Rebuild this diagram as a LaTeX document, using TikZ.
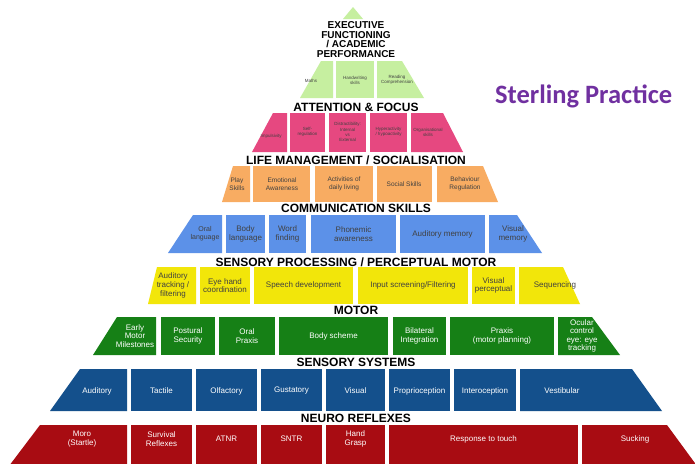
\documentclass[tikz,border=0pt]{standalone}
\usepackage{fontspec}
\setmainfont{Liberation Sans}
\newfontfamily\brandfont{Carlito}
\definecolor{execfill}{RGB}{198,239,160}
\definecolor{attnfill}{RGB}{230,72,128}
\definecolor{lifefill}{RGB}{248,172,98}
\definecolor{commfill}{RGB}{92,145,232}
\definecolor{sensfill}{RGB}{242,230,10}
\definecolor{motorfill}{RGB}{22,128,22}
\definecolor{sysfill}{RGB}{20,80,140}
\definecolor{reflexfill}{RGB}{168,12,18}
\definecolor{brandpurple}{RGB}{112,48,160}

\begin{document}
\begin{tikzpicture}[x=1pt,y=1pt]
\tikzstyle{every node}+=[inner sep=0pt, align=center]
\tikzstyle{title}=[font=\fontsize{12}{12}\selectfont\bfseries, text height=8.6pt, text depth=0pt]
\tikzstyle{tinytext}=[font=\fontsize{4.5}{5.2}\selectfont, text=black!75]
\tikzstyle{smalltext}=[font=\fontsize{6.5}{7.4}\selectfont, text=black!75]
\tikzstyle{boxtext}=[font=\fontsize{8}{8.6}\selectfont, text=black!75]
\tikzstyle{lighttext}=[font=\fontsize{8}{8.6}\selectfont, text=white]
\clip (0,0) rectangle (695,-463);
\fill [white] (0,0) rectangle (695,-463);
\fill [execfill] (343,-19) -- (353,-7) -- (363,-19) -- cycle;
\node [font=\fontsize{10}{9.4}\selectfont\bfseries] (exec) at (356,-39.5) {EXECUTIVE\\FUNCTIONING\\/ ACADEMIC\\PERFORMANCE};
\fill [execfill] (300,-98) -- (321,-61) -- (333,-61) -- (333,-98) -- cycle;
\node [tinytext] (maths) at (311,-81) {Maths};
\fill [execfill] (336,-61) rectangle (374,-98);
\node [tinytext] (handwriting) at (355,-80) {Handwriting\\skills};
\fill [execfill] (377,-61) -- (402,-61) -- (424,-98) -- (377,-98) -- cycle;
\node [tinytext] (reading) at (397,-80) {Reading\\Comprehension};
\node [title] (attention) at (356,-107) {ATTENTION \& FOCUS};
\fill [attnfill] (252,-152) -- (273,-113) -- (287,-113) -- (287,-152) -- cycle;
\node [tinytext] (impulsivity) at (271,-136) {Impulsivity};
\fill [attnfill] (290,-113) rectangle (325,-152);
\node [tinytext] (selfreg) at (307.5,-132) {Self-\\regulation};
\fill [attnfill] (329,-113) rectangle (366,-152);
\node [tinytext] (distract) at (347.5,-132) {Distractibility:\\Internal\\vs\\External};
\fill [attnfill] (370,-113) rectangle (407,-152);
\node [tinytext] (hyper) at (388.5,-132) {Hyperactivity\\/ hypoactivity};
\fill [attnfill] (411,-113) -- (443,-113) -- (463,-152) -- (411,-152) -- cycle;
\node [tinytext] (organise) at (428,-132) {Organisational\\skills};
\node [title] (life) at (356,-160) {LIFE MANAGEMENT / SOCIALISATION};
\fill [lifefill] (222,-202) -- (233,-166) -- (250,-166) -- (250,-202) -- cycle;
\node [smalltext] (play) at (237,-184) {Play\\Skills};
\fill [lifefill] (253,-166) rectangle (310,-202);
\node [smalltext] (emotional) at (282,-184) {Emotional\\Awareness};
\fill [lifefill] (315,-166) rectangle (373,-202);
\node [smalltext] (activities) at (344,-184) {Activities of\\daily living};
\fill [lifefill] (377,-166) rectangle (432,-202);
\node [smalltext] (social) at (404,-184) {Social Skills};
\fill [lifefill] (437,-166) -- (483,-166) -- (498,-202) -- (437,-202) -- cycle;
\node [smalltext] (behaviour) at (465,-184) {Behaviour\\Regulation};
\node [title] (communication) at (356,-208.5) {COMMUNICATION SKILLS};
\fill [commfill] (168,-253) -- (193,-215) -- (222,-215) -- (222,-253) -- cycle;
\node [boxtext, font=\fontsize{7}{8.2}\selectfont] (oral) at (205,-234) {Oral\\language};
\fill [commfill] (226,-215) rectangle (265,-253);
\node [boxtext] (body) at (245.5,-234) {Body\\language};
\fill [commfill] (269,-215) rectangle (306,-253);
\node [boxtext] (word) at (287.5,-234) {Word\\finding};
\fill [commfill] (311,-215) rectangle (396,-253);
\node [boxtext] (phonemic) at (353.5,-234) {Phonemic\\awareness};
\fill [commfill] (400,-215) rectangle (485,-253);
\node [boxtext] (audmemory) at (442.5,-234) {Auditory memory};
\fill [commfill] (489,-215) -- (517,-215) -- (542,-253) -- (489,-253) -- cycle;
\node [boxtext] (vismemory) at (513,-234) {Visual\\memory};
\node [title] (sensory) at (356,-262) {SENSORY PROCESSING / PERCEPTUAL MOTOR};
\fill [sensfill] (148,-304) -- (157,-267) -- (196,-267) -- (196,-304) -- cycle;
\node [boxtext] (audtrack) at (173,-285.5) {Auditory\\tracking /\\filtering};
\fill [sensfill] (200,-267) rectangle (250,-304);
\node [boxtext] (eyehand) at (225,-285.5) {Eye hand\\coordination};
\fill [sensfill] (254,-267) rectangle (353,-304);
\node [boxtext] (speech) at (303.5,-285.5) {Speech development};
\fill [sensfill] (358,-267) rectangle (468,-304);
\node [boxtext] (input) at (413,-285.5) {Input screening/Filtering};
\fill [sensfill] (472,-267) rectangle (515,-304);
\node [boxtext] (visperc) at (493.5,-285.5) {Visual\\perceptual};
\fill [sensfill] (519,-267) -- (563,-267) -- (580,-304) -- (519,-304) -- cycle;
\node [boxtext] (sequencing) at (555,-285.5) {Sequencing};
\node [title] (motor) at (356,-310) {MOTOR};
\fill [motorfill] (93,-355) -- (117,-317) -- (156,-317) -- (156,-355) -- cycle;
\node [lighttext] (early) at (135,-336) {Early\\Motor\\Milestones};
\fill [motorfill] (161,-317) rectangle (215,-355);
\node [lighttext] (postural) at (188,-336) {Postural\\Security};
\fill [motorfill] (219,-317) rectangle (275,-355);
\node [lighttext] (oralpraxis) at (247,-336) {Oral\\Praxis};
\fill [motorfill] (279,-317) rectangle (388,-355);
\node [lighttext] (bodyscheme) at (333.5,-336) {Body scheme};
\fill [motorfill] (393,-317) rectangle (446,-355);
\node [lighttext] (bilateral) at (419.5,-336) {Bilateral\\Integration};
\fill [motorfill] (450,-317) rectangle (554,-355);
\node [lighttext] (praxis) at (502,-336) {Praxis\\(motor planning)};
\fill [motorfill] (558,-317) -- (592,-317) -- (620,-355) -- (558,-355) -- cycle;
\node [lighttext] (ocular) at (582,-336) {Ocular\\control\\eye: eye\\tracking};
\node [title] (systems) at (356,-362.5) {SENSORY SYSTEMS};
\fill [sysfill] (50,-411) -- (80,-369) -- (127,-369) -- (127,-411) -- cycle;
\node [lighttext] (auditory) at (97,-391) {Auditory};
\fill [sysfill] (131,-369) rectangle (192,-411);
\node [lighttext] (tactile) at (161.5,-391) {Tactile};
\fill [sysfill] (196,-369) rectangle (257,-411);
\node [lighttext] (olfactory) at (226.5,-391) {Olfactory};
\fill [sysfill] (261,-369) rectangle (322,-411);
\node [lighttext] (gustatory) at (291.5,-391) {Gustatory};
\fill [sysfill] (326,-369) rectangle (385,-411);
\node [lighttext] (visual) at (355.5,-391) {Visual};
\fill [sysfill] (389,-369) rectangle (450,-411);
\node [lighttext] (proprio) at (419.5,-391) {Proprioception};
\fill [sysfill] (454,-369) rectangle (516,-411);
\node [lighttext] (intero) at (485,-391) {Interoception};
\fill [sysfill] (520,-369) -- (632,-369) -- (662,-411) -- (520,-411) -- cycle;
\node [lighttext] (vestibular) at (562,-391) {Vestibular};
\node [title] (neuro) at (356,-418.5) {NEURO REFLEXES};
\fill [reflexfill] (6,-470) -- (40,-425) -- (127,-425) -- (127,-470) -- cycle;
\node [lighttext] (moro) at (82,-439) {Moro\\(Startle)};
\fill [reflexfill] (131,-425) rectangle (192,-470);
\node [lighttext] (survival) at (161.5,-439) {Survival\\Reflexes};
\fill [reflexfill] (196,-425) rectangle (257,-470);
\node [lighttext] (atnr) at (226.5,-439) {ATNR};
\fill [reflexfill] (261,-425) rectangle (322,-470);
\node [lighttext] (sntr) at (291.5,-439) {SNTR};
\fill [reflexfill] (326,-425) rectangle (385,-470);
\node [lighttext] (grasp) at (355.5,-439) {Hand\\Grasp};
\fill [reflexfill] (389,-425) rectangle (578,-470);
\node [lighttext] (touch) at (483.5,-439) {Response to touch};
\fill [reflexfill] (582,-425) -- (667,-425) -- (700,-470) -- (582,-470) -- cycle;
\node [lighttext] (sucking) at (635,-439) {Sucking};
\node [font=\brandfont\fontsize{26.5}{26.5}\selectfont\bfseries, text=brandpurple, anchor=base west] (brand) at (495,-103) {Sterling Practice};
\end{tikzpicture}
\end{document}
